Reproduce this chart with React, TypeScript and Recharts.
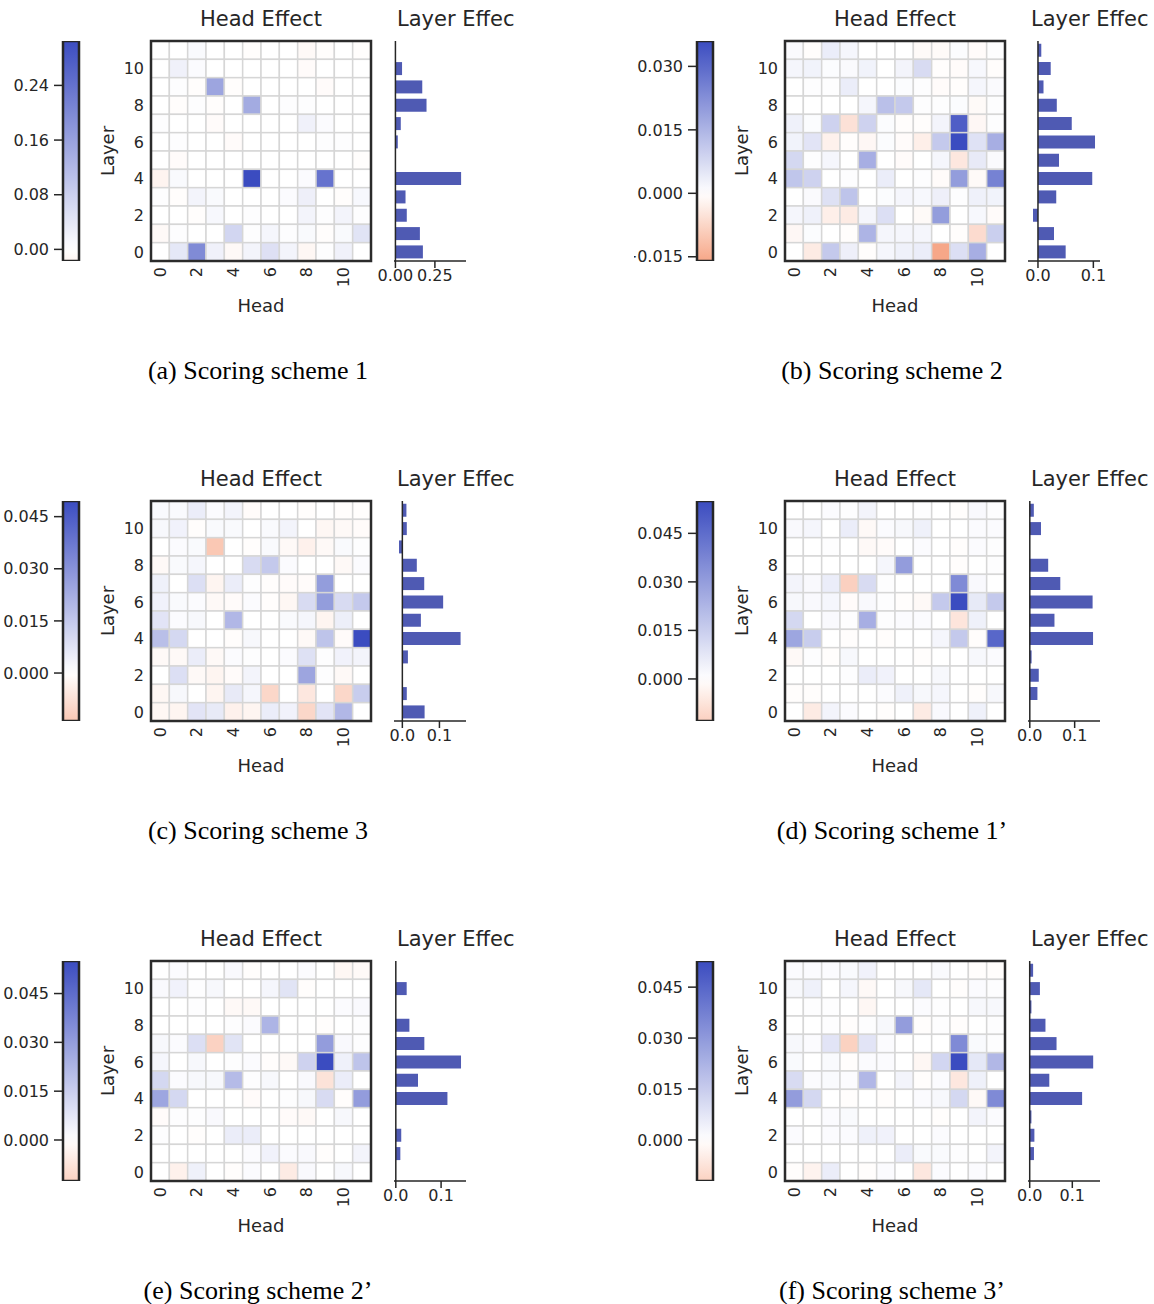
import {
  ScatterChart,
  Scatter,
  BarChart,
  Bar,
  XAxis,
  YAxis,
  ReferenceLine
} from 'recharts'

const FONT = '"DejaVu Sans", Verdana, sans-serif'
const SERIF = '"Liberation Serif", "Times New Roman", serif'
const INK = '#262626'

// heads and layers both run 0..11, ticks only on the even ones
const HEADS = [0, 1, 2, 3, 4, 5, 6, 7, 8, 9, 10, 11]
const EVEN_TICKS = [0, 2, 4, 6, 8, 10]

// head effect heatmaps, rows as drawn: layer 11 (top) down to layer 0
const headA = [
  [0, 0, 0.009, 0, 0, -0.003, 0, 0, -0.009, -0.003, 0, -0.003],
  [0, 0.024, 0.006, 0, 0, 0, 0, 0, -0.006, 0, 0, 0],
  [0, 0.003, -0.003, 0.153, -0.003, 0, 0, 0, 0, -0.006, 0, 0],
  [0, -0.003, 0.003, -0.003, 0, 0.143, 0, 0.003, 0.003, 0, 0, 0],
  [0.003, 0, 0, -0.006, 0, 0, 0, 0, 0.024, 0.006, 0, 0],
  [0, 0.003, 0, 0, -0.006, 0, 0, 0, 0, 0.003, 0.003, 0],
  [0, -0.006, 0, 0, 0, 0, 0, 0, 0, 0, 0, -0.003],
  [-0.017, 0.009, 0, 0, 0, 0.305, 0, 0, 0.006, 0.238, 0, 0],
  [0.003, -0.003, 0.018, 0.009, 0, 0, 0, 0.006, 0.027, 0, -0.003, 0.012],
  [0, 0, -0.003, 0.012, 0, 0.003, 0, 0, 0.018, 0.003, 0.018, 0.003],
  [-0.009, 0.003, 0, 0, 0.07, 0.003, 0.015, 0.003, 0.009, -0.003, 0.009, 0.046],
  [0, 0.04, 0.198, 0.024, -0.009, 0.018, 0.052, 0.018, -0.012, 0.003, 0.024, 0],
]

const headB = [
  [0.001, -0.0004, 0.0036, 0.0018, 0, 0, 0, -0.001, -0.001, 0.0007, -0.0007, 0.0004],
  [0.0018, 0.0025, 0.0007, 0.001, 0.0025, 0, 0.0022, 0.0072, -0.0004, -0.0007, 0.0014, -0.0004],
  [0, 0.0004, 0.0004, 0.0036, 0, 0, 0.0007, 0.0004, -0.0007, -0.0004, 0.0018, 0.001],
  [0, 0, 0, 0, 0.0018, 0.0126, 0.0108, 0.0004, 0.0004, 0.0007, -0.001, 0.0004],
  [0.0029, 0.0007, 0.009, -0.0054, 0.009, 0.0007, -0.0004, -0.0004, 0.0022, 0.0324, -0.0014, 0.0004],
  [0.0025, 0.0054, -0.0025, -0.0004, -0.0014, 0.0007, -0.0007, -0.0029, 0.0108, 0.036, 0.0058, 0.0162],
  [0.0079, 0.0004, 0.0018, 0, 0.0162, 0, -0.0007, 0, 0.0018, -0.0043, 0.0043, 0.001],
  [0.0115, 0.009, 0, 0.0004, 0, 0.0036, 0, 0.0004, -0.0007, 0.0198, -0.001, 0.0252],
  [0, 0.001, 0.0061, 0.0119, 0, 0.0007, 0.0018, 0.0014, 0.0032, 0.0004, 0.0029, 0.0025],
  [0.0018, 0.0029, -0.0029, -0.0036, 0.0018, 0.0065, 0, -0.001, 0.0198, 0, 0.0014, -0.0007],
  [-0.0014, 0.0007, 0, -0.0004, 0.0151, 0.0018, 0.0018, 0.0018, 0, -0.0004, -0.0065, 0.0097],
  [0, -0.0036, 0.0108, 0.0032, -0.0004, 0.0018, 0.0029, 0.0036, -0.016, 0.0065, 0.0162, 0],
]

const headC = [
  [0.0015, 0.0015, 0.005, 0.001, 0.003, -0.001, 0, 0, -0.0005, 0, -0.0005, -0.0005],
  [0.002, 0.0035, -0.0005, 0.0015, 0.0015, 0, 0.0015, 0.003, 0, -0.002, -0.0015, -0.001],
  [0, 0.001, 0.0015, -0.0138, 0, -0.0005, 0.0015, -0.0015, -0.0035, -0.0015, 0.0015, 0.0005],
  [-0.0015, 0.0015, 0.0025, 0, 0, 0.0099, 0.0149, 0.001, 0, 0, -0.0015, 0.001],
  [0.004, 0, 0.0089, -0.0025, 0.005, 0.0005, -0.0005, -0.001, -0.001, 0.0272, 0, 0],
  [0.0035, 0.0015, 0.001, -0.0015, -0.001, 0.001, -0.0005, -0.002, 0.0099, 0.0272, 0.0099, 0.0149],
  [0.0074, 0.001, 0.002, 0, 0.0198, 0, 0, 0.0015, 0.0025, -0.0025, 0.0045, 0],
  [0.0178, 0.0109, 0, 0, -0.0005, 0.002, 0, 0, -0.0015, 0.0163, -0.001, 0.0495],
  [-0.0015, -0.0015, 0.005, -0.0015, 0.001, 0.0005, 0, 0.001, 0.0084, 0.0005, 0.0035, 0.003],
  [0, 0.0089, -0.0015, -0.0025, -0.001, 0.003, 0, 0, 0.0248, 0.0005, -0.0015, 0],
  [-0.002, 0.002, 0, -0.0025, 0.0059, 0.0025, -0.0099, 0, -0.0059, 0, -0.0099, 0.0139],
  [-0.002, -0.0025, 0.0074, 0.0059, -0.0035, -0.0025, 0.005, 0.0035, -0.0099, 0.0074, 0.0198, 0],
]

const headD = [
  [0, 0, 0.0011, 0.0006, 0.0033, 0, 0, 0.0006, 0, -0.0006, 0.0017, 0.0006],
  [0.0017, 0.0028, 0, 0.0055, -0.0017, 0.0011, 0.0022, 0.0044, 0, 0, 0.0011, 0.0011],
  [0, 0, 0.0006, 0, -0.0017, -0.0011, 0, 0.0011, 0, -0.0006, 0.0011, 0.0006],
  [0, 0, 0, 0, 0, 0.0028, 0.0303, 0, 0, -0.0006, 0, 0.0006],
  [0.0033, 0.0017, 0.0055, -0.013, 0.011, 0.0006, 0, 0, 0, 0.0358, 0.0017, 0],
  [0.0022, 0.0017, 0.0028, -0.0011, 0.0017, 0.0006, -0.0006, -0.0017, 0.0165, 0.055, 0.0066, 0.0165],
  [0.0121, 0, 0.0017, 0.0006, 0.0248, 0.0006, 0.0011, 0.0011, 0, -0.0072, 0.0044, 0],
  [0.0275, 0.0154, 0, -0.0006, 0, -0.0006, 0, 0, 0.0028, 0.0165, -0.0006, 0.0468],
  [-0.0017, 0.0006, -0.0006, 0.0022, 0, 0, 0, -0.0006, 0, 0, 0.0022, 0.0011],
  [0, 0, 0, 0.0006, 0.0055, 0.0039, 0, 0, 0.0022, 0, 0, 0],
  [-0.0006, -0.0006, 0, 0, 0, 0.0011, 0.0044, 0.0022, 0.0028, 0, -0.0006, 0.0022],
  [0, -0.0055, 0.0033, 0.0011, 0, -0.0006, 0, -0.0055, 0.0017, 0, 0.0044, 0],
]

const headE = [
  [0, 0.0011, 0, 0, 0.0017, -0.0006, 0, 0, 0.0011, 0, -0.0022, -0.0017],
  [0.0017, 0.0039, 0.0006, 0.0022, 0, 0, 0.0028, 0.0083, -0.0006, 0, 0, 0],
  [0, 0, 0.0006, 0, -0.0017, -0.0017, 0, 0, 0, 0, 0.0011, 0.0017],
  [0, 0, 0, 0, 0.0006, 0.0011, 0.0231, 0, 0, -0.0006, 0, 0.0006],
  [0.0022, 0.0011, 0.0099, -0.0126, 0.0083, 0, 0, 0, 0, 0.0303, 0.0017, 0.0006],
  [0.0028, 0, 0.0022, 0, 0.0006, 0.0011, -0.0006, -0.0017, 0.0138, 0.055, 0.0044, 0.0182],
  [0.0121, 0.0011, 0.0022, 0.0022, 0.0209, 0.0006, 0.0022, 0, 0.0017, -0.0077, 0.0055, 0],
  [0.0275, 0.0121, 0, 0, 0, -0.0011, 0, 0.0006, 0.0022, 0.011, -0.0006, 0.0303],
  [-0.0011, 0.0006, 0.0006, 0.0017, 0, 0, 0, -0.0011, -0.0017, 0, 0.0022, 0],
  [0.0006, 0, -0.0006, 0, 0.0055, 0.0055, 0, 0, 0, 0, 0, 0],
  [0, 0, 0, 0, 0, 0.0011, 0.0039, 0.0011, 0.0017, -0.0006, 0, 0.0033],
  [0, -0.0039, 0.0044, 0, -0.0006, 0.0011, 0, -0.0055, 0.0017, 0, 0.0022, 0],
]

const headF = [
  [0.0011, 0.0011, 0.0011, 0.0016, 0.0037, 0, 0, 0, 0.0016, 0, -0.0005, -0.0005],
  [0.0021, 0.0042, 0, 0.0026, -0.0016, 0, 0.0021, 0.0069, 0, -0.0005, 0.0011, 0.0005],
  [0, 0.0005, 0.0005, 0, -0.0021, 0, 0, 0.0011, 0.0005, 0, 0.0021, 0.0021],
  [0, 0, 0.0005, -0.0005, 0.0005, 0.0021, 0.029, -0.0005, 0.0005, -0.0005, 0, 0.0005],
  [0.0021, 0.0011, 0.0079, -0.0121, 0.0079, 0.0011, 0, 0, 0, 0.0343, 0.0016, 0.0005],
  [0.0016, 0, 0.0016, -0.0005, 0.0011, 0.0011, 0, -0.0021, 0.0121, 0.0527, 0.0069, 0.0211],
  [0.0105, 0.0011, 0.0016, 0.0011, 0.0211, 0, 0.0032, -0.0005, 0.0011, -0.0063, 0.0042, 0],
  [0.029, 0.0116, 0, -0.0005, 0, -0.0005, 0, 0.0011, 0.0021, 0.0116, -0.0016, 0.0343],
  [0, 0, 0.0011, 0.0016, 0, 0, 0, 0, -0.0005, 0, 0.0032, 0.0011],
  [0.0011, 0, 0.0011, 0.0011, 0.0042, 0.0037, 0, 0, 0.0011, 0, 0, 0],
  [0, 0, 0, 0, 0, 0, 0.0053, 0.0016, 0.0016, 0.0005, 0, 0.0032],
  [-0.0005, -0.0032, 0.0053, 0, -0.0005, 0.0011, 0, -0.0063, 0.0011, 0, 0.0011, 0],
]

// layer effect bars, same order (layer 11 -> layer 0)
const layerA = [0, 0.042, 0.17, 0.197, 0.034, 0.015, 0, 0.416, 0.064, 0.072, 0.155, 0.174]
const layerB = [0.006, 0.023, 0.01, 0.034, 0.061, 0.103, 0.038, 0.098, 0.033, -0.009, 0.029, 0.05]
const layerC = [0.011, 0.012, -0.009, 0.039, 0.059, 0.11, 0.05, 0.157, 0.015, 0, 0.012, 0.06]
const layerD = [0.009, 0.025, 0, 0.041, 0.068, 0.14, 0.055, 0.141, 0.004, 0.02, 0.017, 0]
const layerE = [0, 0.024, 0, 0.03, 0.063, 0.144, 0.049, 0.114, 0, 0.012, 0.01, 0]
const layerF = [0.008, 0.024, 0.004, 0.037, 0.063, 0.149, 0.046, 0.123, 0.004, 0.011, 0.01, 0]

// x limits of the layer effect axes
const layerDomainA = [-0.009, 0.447]
const layerDomainB = [-0.018, 0.112]
const layerDomainC = [-0.0225, 0.1716]
const layerDomainD = [-0.004, 0.1565]
const layerDomainE = [-0.004, 0.155]
const layerDomainF = [-0.004, 0.165]

const layerTicksA = [0, 0.25]
const layerTicksRest = [0, 0.1]

const colorTicksA = [0, 0.08, 0.16, 0.24]
const colorTicksB = [-0.015, 0, 0.015, 0.03]
const colorTicksRest = [0, 0.015, 0.03, 0.045]

const CAPTIONS = [
  '(a) Scoring scheme 1',
  '(b) Scoring scheme 2',
  '(c) Scoring scheme 3',
  '(d) Scoring scheme 1\u2019',
  '(e) Scoring scheme 2\u2019',
  '(f) Scoring scheme 3\u2019',
]

interface PanelConfig {
  id: string
  left: number
  top: number
  heads: number[][]
  layers: number[]
  layerDomain: number[]
  layerTicks: number[]
  layerDigits: number
  colorTicks: number[]
  colorDigits: number
  caption: string
}

const PANELS: PanelConfig[] = [
  { id: 'a', left: 0, top: 0, heads: headA, layers: layerA, layerDomain: layerDomainA, layerTicks: layerTicksA, layerDigits: 2, colorTicks: colorTicksA, colorDigits: 2, caption: CAPTIONS[0] },
  { id: 'b', left: 634, top: 0, heads: headB, layers: layerB, layerDomain: layerDomainB, layerTicks: layerTicksRest, layerDigits: 1, colorTicks: colorTicksB, colorDigits: 3, caption: CAPTIONS[1] },
  { id: 'c', left: 0, top: 460, heads: headC, layers: layerC, layerDomain: layerDomainC, layerTicks: layerTicksRest, layerDigits: 1, colorTicks: colorTicksRest, colorDigits: 3, caption: CAPTIONS[2] },
  { id: 'd', left: 634, top: 460, heads: headD, layers: layerD, layerDomain: layerDomainD, layerTicks: layerTicksRest, layerDigits: 1, colorTicks: colorTicksRest, colorDigits: 3, caption: CAPTIONS[3] },
  { id: 'e', left: 0, top: 920, heads: headE, layers: layerE, layerDomain: layerDomainE, layerTicks: layerTicksRest, layerDigits: 1, colorTicks: colorTicksRest, colorDigits: 3, caption: CAPTIONS[4] },
  { id: 'f', left: 634, top: 920, heads: headF, layers: layerF, layerDomain: layerDomainF, layerTicks: layerTicksRest, layerDigits: 1, colorTicks: colorTicksRest, colorDigits: 3, caption: CAPTIONS[5] },
]

// heatmap plot area is 220px square
const PLOT = 220
const CELL = PLOT / 12
const PAD = 2

// white-centred diverging map (blue positive, salmon/red negative)
const WHITE = [255, 255, 255]
const BLUE = [59, 76, 192]
const SALMON = [247, 168, 137]
const RED = [180, 4, 38]

const mix = (a: number[], b: number[], t: number) =>
  a.map((c, i) => Math.round(c + (b[i] - c) * t))

function heatColor(v: number, vmax: number) {
  const t = Math.min(Math.abs(v) / vmax, 1)
  let rgb: number[]
  if (v >= 0) rgb = mix(WHITE, BLUE, t)
  else if (t <= 0.44) rgb = mix(WHITE, SALMON, t / 0.44)
  else rgb = mix(SALMON, RED, (t - 0.44) / 0.56)
  return `rgb(${rgb.join(',')})`
}

const fmt = (digits: number) => (v: number) =>
  (v < 0 ? '\u2212' : '') + Math.abs(v).toFixed(digits)

const HeadTick = ({ x, y, payload }: any) => (
  <text
    x={x}
    y={y}
    transform={`rotate(-90 ${x} ${y})`}
    textAnchor="end"
    dominantBaseline="central"
    fill={INK}
    fontSize={16}
    fontFamily={FONT}
  >
    {payload.value}
  </text>
)

function TextAt({ x, y, size, rotate, anchor, children, family }: any) {
  const shift = anchor === 'start' ? 'translate(0,-50%)' : 'translate(-50%,-50%)'
  return (
    <div
      style={{
        position: 'absolute',
        left: x,
        top: y,
        transform: `${shift}${rotate ? ` rotate(${rotate}deg)` : ''}`,
        fontSize: size,
        fontFamily: family || FONT,
        color: family ? '#000' : INK,
        lineHeight: 1,
        whiteSpace: 'nowrap'
      }}
    >
      {children}
    </div>
  )
}

function Panel({ cfg }: { cfg: PanelConfig }) {
  const flat = cfg.heads.flat()
  const lo = Math.min(...flat)
  const hi = Math.max(...flat)
  const vmax = Math.max(Math.abs(lo), Math.abs(hi))

  const cells = cfg.heads.flatMap((row, i) =>
    row.map((v, h) => ({ head: HEADS[h], layer: 11 - i, v }))
  )
  const frame = [{ head: 5.5, layer: 5.5 }]
  const bars = cfg.layers.map((v, i) => ({ layer: String(11 - i), v }))

  const stops = Array.from({ length: 25 }, (_, k) => {
    const v = lo + ((hi - lo) * k) / 24
    return <stop key={k} offset={`${(k / 24) * 100}%`} stopColor={heatColor(v, vmax)} />
  })
  const gradId = `cbar-${cfg.id}`

  return (
    <div
      style={{
        position: 'absolute',
        left: cfg.left - PAD,
        top: cfg.top,
        width: 521,
        height: 460,
        overflow: 'hidden'
      }}
    >
      {/* colorbar */}
      <div style={{ position: 'absolute', left: PAD, top: 0 }}>
        <BarChart
          width={82}
          height={271}
          data={[{ k: 'cb', r: [lo, hi] }]}
          margin={{ top: 41, right: 3, left: 0, bottom: 10 }}
          barCategoryGap={0}
        >
          <defs>
            <linearGradient id={gradId} x1="0" y1="1" x2="0" y2="0">
              {stops}
            </linearGradient>
          </defs>
          <XAxis dataKey="k" hide />
          <YAxis
            type="number"
            domain={[lo, hi]}
            ticks={cfg.colorTicks}
            interval={0}
            allowDataOverflow
            width={63}
            tickSize={9}
            tickMargin={5}
            axisLine={false}
            tickLine={{ stroke: INK, strokeWidth: 1.5 }}
            tick={{ fill: INK, fontSize: 16, fontFamily: FONT }}
            tickFormatter={fmt(cfg.colorDigits)}
          />
          <Bar dataKey="r" fill={`url(#${gradId})`} stroke={INK} strokeWidth={2.5} isAnimationActive={false} />
        </BarChart>
      </div>

      {/* head effect heatmap */}
      <div style={{ position: 'absolute', left: 90 + PAD, top: 0 }}>
        <ScatterChart width={290} height={321} margin={{ top: 41, right: 9, left: 0, bottom: 0 }}>
          <XAxis
            type="number"
            dataKey="head"
            domain={[-0.5, 11.5]}
            ticks={EVEN_TICKS}
            interval={0}
            height={60}
            tickSize={0}
            tickMargin={6}
            axisLine={false}
            tickLine={false}
            tick={<HeadTick />}
          />
          <YAxis
            type="number"
            dataKey="layer"
            domain={[-0.5, 11.5]}
            ticks={EVEN_TICKS}
            interval={0}
            width={61}
            tickSize={0}
            tickMargin={7}
            axisLine={false}
            tickLine={false}
            tick={{ fill: INK, fontSize: 16, fontFamily: FONT }}
          />
          <Scatter
            data={cells}
            isAnimationActive={false}
            shape={(p: any) => (
              <rect
                x={p.cx - CELL / 2}
                y={p.cy - CELL / 2}
                width={CELL}
                height={CELL}
                fill={heatColor(p.payload.v, vmax)}
                stroke="#d6d6d6"
                strokeWidth={1.5}
              />
            )}
          />
          <Scatter
            data={frame}
            isAnimationActive={false}
            shape={(p: any) => (
              <rect
                x={p.cx - PLOT / 2}
                y={p.cy - PLOT / 2}
                width={PLOT}
                height={PLOT}
                fill="none"
                stroke="#2b2b2b"
                strokeWidth={2.5}
              />
            )}
          />
        </ScatterChart>
      </div>

      {/* layer effect bars (wide svg so the first tick label is not clipped) */}
      <div style={{ position: 'absolute', left: 340 + PAD, top: 0 }}>
        <BarChart
          layout="vertical"
          width={140}
          height={301}
          data={bars}
          margin={{ top: 41, right: 14, left: 54, bottom: 0 }}
          barCategoryGap="15%"
        >
          <XAxis
            type="number"
            domain={cfg.layerDomain}
            ticks={cfg.layerTicks}
            interval={0}
            allowDataOverflow
            height={40}
            tickSize={7}
            tickMargin={2}
            axisLine={{ stroke: INK, strokeWidth: 1.5 }}
            tickLine={{ stroke: INK, strokeWidth: 1.5 }}
            tick={{ fill: INK, fontSize: 16, fontFamily: FONT }}
            tickFormatter={fmt(cfg.layerDigits)}
          />
          <YAxis type="category" dataKey="layer" hide />
          <ReferenceLine x={0} stroke={INK} strokeWidth={1.5} />
          <Bar dataKey="v" fill="#4f5ab3" isAnimationActive={false} />
        </BarChart>
      </div>

      <TextAt x={261 + PAD} y={19} size={21}>Head Effect</TextAt>
      <TextAt x={397 + PAD} y={19} size={21} anchor="start">Layer Effec</TextAt>
      <TextAt x={108 + PAD} y={151} size={18} rotate={-90}>Layer</TextAt>
      <TextAt x={261 + PAD} y={306} size={18}>Head</TextAt>
      <TextAt x={258 + PAD} y={371} size={26} family={SERIF}>{cfg.caption}</TextAt>
    </div>
  )
}

export default function App() {
  return (
    <div
      style={{
        position: 'absolute',
        left: 0,
        top: 0,
        width: 1154,
        height: 1304,
        background: '#fff',
        overflow: 'hidden'
      }}
    >
      {PANELS.map((cfg) => (
        <Panel key={cfg.id} cfg={cfg} />
      ))}
    </div>
  )
}
